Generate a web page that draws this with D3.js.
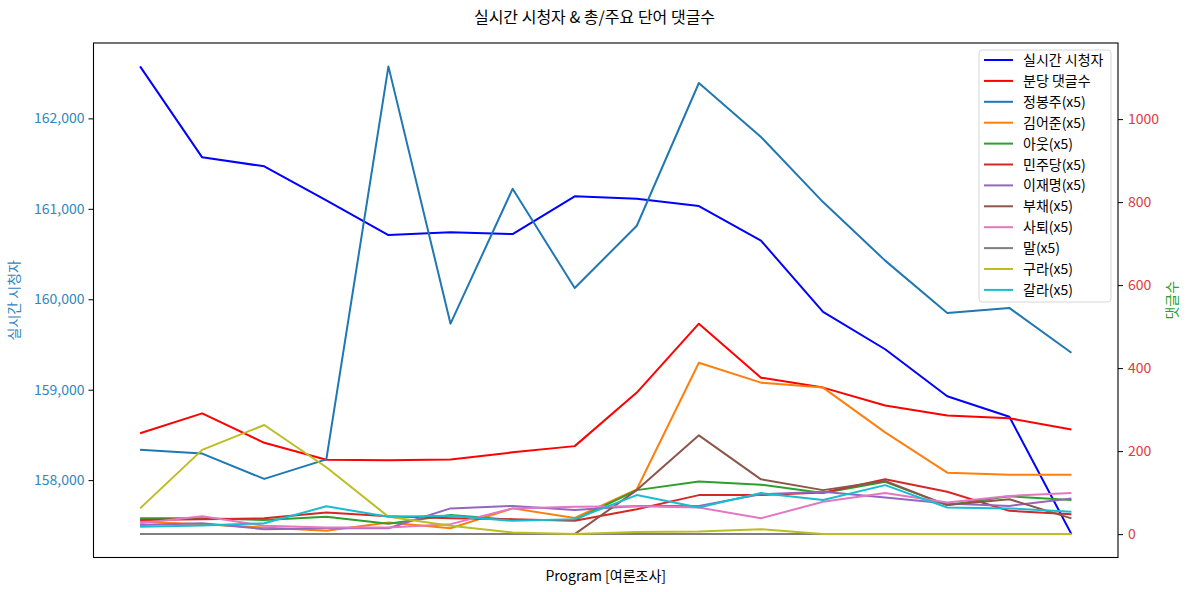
<!DOCTYPE html>
<html>
<head>
<meta charset="utf-8">
<script src="https://cdn.jsdelivr.net/npm/d3@7"></script>
<style>
  html, body { margin: 0; padding: 0; background: #fff; }
  svg { display: block; font-family: "Noto Sans CJK KR", "Noto Sans", sans-serif; }
</style>
</head>
<body>
<div id="chart"></div>
<script>
// ---- data ----
const points = d3.range(16); // 16 program points, x labels are empty
const leftTicks = [158000, 159000, 160000, 161000, 162000];
const rightTicks = [0, 200, 400, 600, 800, 1000];

const viewers = [162575, 161569, 161470, 161094, 160710, 160740, 160721, 161138, 161112, 161031, 160648, 159860, 159447, 158928, 158700, 157403];
const commentsPerMin = [243, 291, 220, 179, 178, 180, 197, 212, 341, 507, 377, 353, 310, 286, 279, 252];

const wJeongBongju = [203, 194, 133, 180, 1127, 507, 832, 593, 743, 1087, 957, 800, 659, 533, 545, 437];
const wKimEojun    = [30, 24, 16, 8, 28, 14, 62, 39, 108, 413, 365, 353, 245, 148, 143, 143];
const wOut         = [38, 38, 34, 42, 25, 46, 34, 34, 106, 127, 119, 99, 126, 70, 91, 82];
const wMinjudang   = [34, 36, 38, 52, 43, 38, 36, 32, 60, 94, 94, 100, 132, 102, 56, 48];
const wLeeJaemyung = [22, 26, 12, 14, 14, 62, 68, 58, 68, 68, 96, 102, 88, 74, 68, 86];
const wBuchae      = [0, 0, 0, 0, 0, 0, 0, 0, 106, 238, 132, 106, 128, 70, 84, 38];
const wSatoe       = [26, 43, 20, 16, 16, 24, 62, 66, 67, 64, 38, 78, 99, 76, 92, 99];
const wMal         = [0, 0, 0, 0, 0, 0, 0, 0, 0, 0, 0, 0, 0, 0, 0, 0];
const wGura        = [62, 203, 263, 161, 42, 20, 4, 0, 5, 6, 12, 0, 0, 0, 0, 0];
const wGalla       = [18, 21, 26, 67, 42, 44, 32, 36, 94, 64, 99, 82, 118, 64, 62, 54];

const leftSeries = [{name: "실시간 시청자", values: viewers, color: "#0000ff"}];
const rightSeries = [
  {name: "분당 댓글수", values: commentsPerMin, color: "#ff0000"},
  {name: "정봉주(x5)", values: wJeongBongju, color: "#1f77b4"},
  {name: "김어준(x5)", values: wKimEojun, color: "#ff7f0e"},
  {name: "아웃(x5)", values: wOut, color: "#2ca02c"},
  {name: "민주당(x5)", values: wMinjudang, color: "#d62728"},
  {name: "이재명(x5)", values: wLeeJaemyung, color: "#9467bd"},
  {name: "부채(x5)", values: wBuchae, color: "#8c564b"},
  {name: "사퇴(x5)", values: wSatoe, color: "#e377c2"},
  {name: "말(x5)", values: wMal, color: "#7f7f7f"},
  {name: "구라(x5)", values: wGura, color: "#bcbd22"},
  {name: "갈라(x5)", values: wGalla, color: "#17becf"}
];

// ---- layout ----
const W = 1189, H = 592;
const L = 93.5, R = 1118, T = 43, B = 557.5;

const svg = d3.select("#chart").append("svg").attr("width", W).attr("height", H);

function padded(lo, hi) { const s = hi - lo; return [lo - 0.05 * s, hi + 0.05 * s]; }

const x = d3.scaleLinear().domain(padded(0, points.length - 1)).range([L, R]);
const yL = d3.scaleLinear().domain(padded(d3.min(viewers), d3.max(viewers))).range([B, T]);
const allRight = rightSeries.flatMap(s => s.values);
const yR = d3.scaleLinear().domain(padded(d3.min(allRight), d3.max(allRight))).range([B, T]);

svg.append("defs").append("clipPath").attr("id", "clip")
  .append("rect").attr("x", L).attr("y", T).attr("width", R - L).attr("height", B - T);

const lineL = d3.line().x((d, i) => x(points[i])).y(d => yL(d));
const lineR = d3.line().x((d, i) => x(points[i])).y(d => yR(d));

const plot = svg.append("g").attr("clip-path", "url(#clip)");
leftSeries.forEach(s => {
  plot.append("path").attr("d", lineL(s.values)).attr("fill", "none")
    .attr("stroke", s.color).attr("stroke-width", 2).attr("stroke-linejoin", "round");
});
rightSeries.forEach(s => {
  plot.append("path").attr("d", lineR(s.values)).attr("fill", "none")
    .attr("stroke", s.color).attr("stroke-width", 2).attr("stroke-linejoin", "round");
});

// frame
svg.append("rect").attr("x", L).attr("y", T).attr("width", R - L).attr("height", B - T)
  .attr("fill", "none").attr("stroke", "#000").attr("stroke-width", 1.1);

// left axis
const fmt = d3.format(",");
const gl = svg.append("g").attr("transform", `translate(${L},0)`)
  .call(d3.axisLeft(yL).tickValues(leftTicks).tickFormat(fmt).tickSize(5).tickPadding(4));
gl.select(".domain").remove();
gl.selectAll("line").attr("stroke", "#000");
gl.selectAll("text").attr("fill", "#2f86c4").style("font-size", "14px")
  .style("font-family", "'Noto Sans CJK KR', sans-serif");

// right axis
const gr = svg.append("g").attr("transform", `translate(${R},0)`)
  .call(d3.axisRight(yR).tickValues(rightTicks).tickFormat(d3.format("d")).tickSize(5).tickPadding(5));
gr.select(".domain").remove();
gr.selectAll("line").attr("stroke", "#000");
gr.selectAll("text").attr("fill", "#de3b3f").style("font-size", "14px")
  .style("font-family", "'Noto Sans CJK KR', sans-serif");

// axis labels
svg.append("text").attr("transform", `translate(19,${(T + B) / 2}) rotate(-90)`)
  .attr("text-anchor", "middle").attr("fill", "#2f86c4").style("font-size", "14px").text("실시간 시청자");
svg.append("text").attr("transform", `translate(1177,${(T + B) / 2}) rotate(-90)`)
  .attr("text-anchor", "middle").attr("fill", "#2ca02c").style("font-size", "14px").text("댓글수");
svg.append("text").attr("x", (L + R) / 2).attr("y", 581).attr("text-anchor", "middle")
  .attr("fill", "#000").style("font-size", "14px").text("Program [여론조사]");

// title
svg.append("text").attr("x", W / 2).attr("y", 23).attr("text-anchor", "middle")
  .attr("fill", "#000").style("font-size", "16px").text("실시간 시청자 & 총/주요 단어 댓글수");

// legend
const legendItems = leftSeries.concat(rightSeries);
const lg = svg.append("g");
const lx = 979, ly = 50, lw = 132, rowH = 20.9;
lg.append("rect").attr("x", lx).attr("y", ly).attr("width", lw).attr("height", 252)
  .attr("rx", 3).attr("fill", "#fff").attr("fill-opacity", 0.85).attr("stroke", "#d6d6d6");
legendItems.forEach((s, i) => {
  const cy = ly + 10 + i * rowH;
  lg.append("line").attr("x1", lx + 5).attr("x2", lx + 34).attr("y1", cy).attr("y2", cy)
    .attr("stroke", s.color).attr("stroke-width", 2);
  lg.append("text").attr("x", lx + 44).attr("y", cy + 5).attr("fill", "#000")
    .style("font-size", "14px").text(s.name);
});
</script>
</body>
</html>
